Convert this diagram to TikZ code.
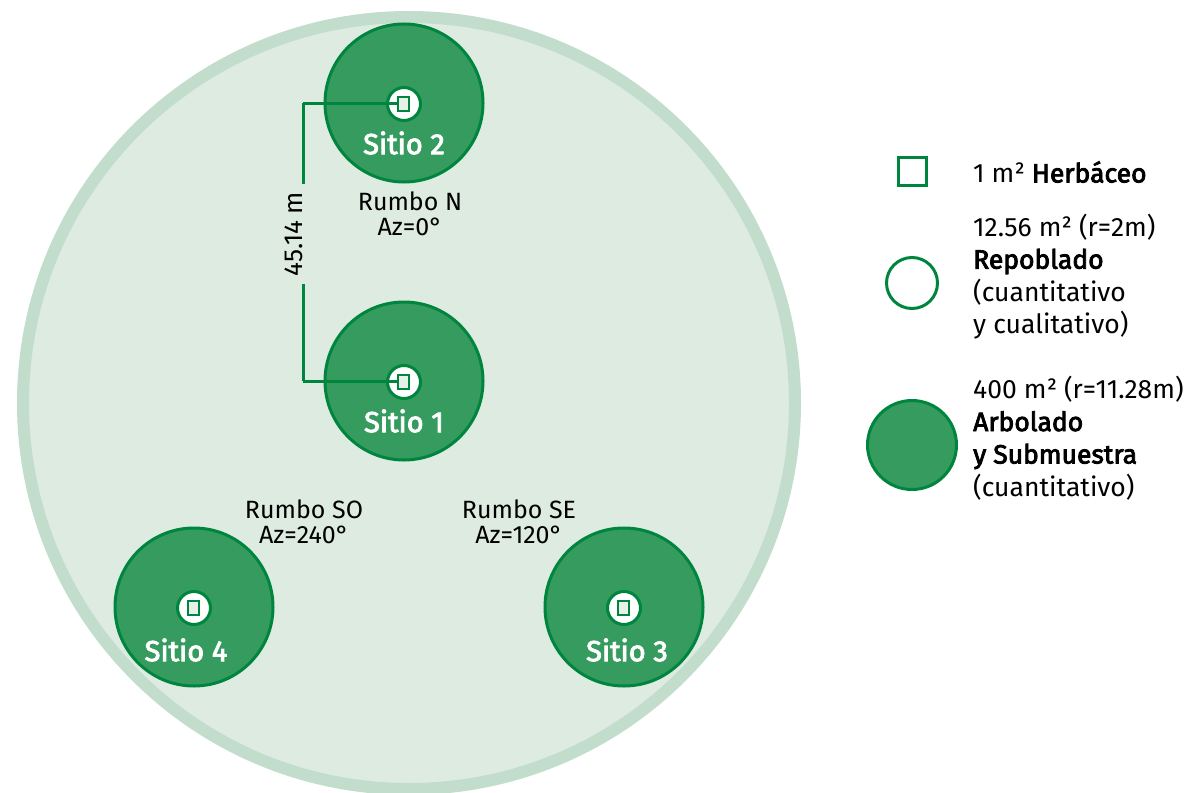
\documentclass[tikz,border=0pt]{standalone}
\usepackage{fontspec}
\setmainfont{Fira Sans}
\newfontfamily\medio[FakeBold=3]{Fira Sans}
\definecolor{verde}{RGB}{0,133,62}
\definecolor{verdesitio}{RGB}{53,155,94}
\definecolor{fondo}{RGB}{221,235,225}
\definecolor{anillo}{RGB}{194,221,204}
\definecolor{cuadro}{RGB}{231,241,234}

\tikzstyle{parcela}=[circle,draw=anillo,fill=fondo,line width=12pt,minimum size=772pt,inner sep=0pt]
\tikzstyle{sitio}=[circle,draw=verde,fill=verdesitio,line width=3pt,minimum size=158pt,inner sep=0pt]
\tikzstyle{marca}=[circle,draw=verde,fill=white,line width=3pt,minimum size=33pt,inner sep=0pt]
\tikzstyle{cuad}=[rectangle,draw=verde,fill=cuadro,line width=2.5pt,minimum width=11pt,minimum height=14pt,inner sep=0pt]
\tikzstyle{etiq}=[text=white,font=\fontsize{29}{30}\medio]
\tikzstyle{rumbo}=[align=center,font=\fontsize{25}{25}\selectfont,inner sep=0pt]
\tikzstyle{leyenda}=[align=left,anchor=west,font=\fontsize{26.5}{32.5}\selectfont,inner sep=0pt]
\tikzstyle{enlace}=[draw=verde,line width=3pt]

\begin{document}
\begin{tikzpicture}[x=1pt,y=-1pt]
		\useasboundingbox (0,0) rectangle (1198,792);
		\node [parcela] (parcela) at (409,403) {};
		\node [sitio]   (s2)      at (404,103) {};
		\node [sitio]   (s1)      at (404,381) {};
		\node [sitio]   (s4)      at (194,607) {};
		\node [sitio]   (s3)      at (624,607) {};
		\node [marca]   (m2)      at (404,104) {};
		\node [marca]   (m1)      at (404,382) {};
		\node [marca]   (m4)      at (194,608) {};
		\node [marca]   (m3)      at (624,608) {};
		\coordinate     (arriba)  at (303,103);
		\coordinate     (abajo)   at (303,381);
		
		\draw [enlace] (arriba) -- (abajo);
		\draw [enlace] (arriba) -- (397,103);
		\draw [enlace] (abajo)  -- (397,381);
		\node [rotate=90,fill=fondo,inner xsep=8pt,inner ysep=10pt,font=\fontsize{26}{26}\selectfont] (dist) at (294,234) {45.14 m};
		
		\node [cuad]    (c2)      at (403.5,104) {};
		\node [cuad]    (c1)      at (403.5,382) {};
		\node [cuad]    (c4)      at (193.5,608) {};
		\node [cuad]    (c3)      at (623.5,608) {};
		
		\node [etiq]    (t2)      at (404,143) {Sitio 2};
		\node [etiq]    (t1)      at (404,421) {Sitio 1};
		\node [etiq]    (t4)      at (186,650) {Sitio 4};
		\node [etiq]    (t3)      at (627,650) {Sitio 3};
		
		\node [rumbo]   (rn)      at (410,214) {Rumbo N\\Az=0°};
		\node [rumbo]   (rso)     at (304,522) {Rumbo SO\\Az=240°};
		\node [rumbo]   (rse)     at (519,522) {Rumbo SE\\Az=120°};
		
		% leyenda
		\node [rectangle,draw=verde,fill=white,line width=3pt,minimum size=28pt,inner sep=0pt] (lcuad) at (912,171) {};
		\node [circle,draw=verde,fill=white,line width=3pt,minimum size=51pt,inner sep=0pt]   (lrep)  at (912,283) {};
		\node [circle,draw=verde,fill=verdesitio,line width=3pt,minimum size=89pt,inner sep=0pt] (larb) at (912,445) {};
		\node [leyenda] (herb)    at (973,172)   {1 m² {\medio Herbáceo}};
		\node [leyenda] (repo)    at (973,276.5) {12.56 m² (r=2m)\\{\medio Repoblado}\\(cuantitativo\\y cualitativo)};
		\node [leyenda] (arbo)    at (973,438)   {400 m² (r=11.28m)\\{\medio Arbolado}\\{\medio y Submuestra}\\(cuantitativo)};
	\end{tikzpicture}
\end{document}
